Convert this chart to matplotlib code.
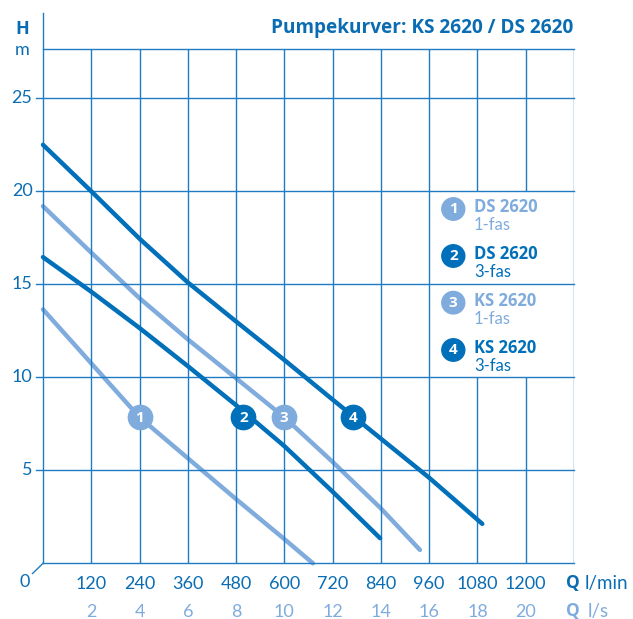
import matplotlib
matplotlib.use("Agg")
import matplotlib.pyplot as plt
from matplotlib.patches import Rectangle

# ---- data ----
q_ds1 = [0, 120, 240, 360, 480, 600, 671]
h_ds1 = [13.65, 10.75, 7.85, 5.65, 3.45, 1.3, 0.0]
q_ds3 = [0, 120, 240, 360, 480, 600, 720, 838]
h_ds3 = [16.46, 14.6, 12.65, 10.6, 8.5, 6.3, 3.85, 1.35]
q_ks1 = [0, 120, 240, 360, 480, 600, 720, 840, 937]
h_ks1 = [19.2, 16.7, 14.25, 12.04, 9.95, 7.85, 5.45, 2.95, 0.72]
q_ks3 = [0, 120, 240, 360, 480, 600, 720, 840, 960, 1092]
h_ks3 = [22.5, 20.0, 17.45, 15.1, 13.0, 10.93, 8.8, 6.7, 4.6, 2.12]

label_nums = ["1", "2", "3", "4"]
label_q = [240, 498, 598, 770]
label_h = [7.85, 7.85, 7.85, 7.85]

legend_names = ["DS 2620", "DS 2620", "KS 2620", "KS 2620"]
legend_phase = ["1-fas", "3-fas", "1-fas", "3-fas"]

x_ticks_lmin = [120, 240, 360, 480, 600, 720, 840, 960, 1080, 1200]
x_ticks_ls = [2, 4, 6, 8, 10, 12, 14, 16, 18, 20]
y_ticks = [5, 10, 15, 20, 25]

title = "Pumpekurver: KS 2620 / DS 2620"

DARK = "#0070BA"
LIGHT = "#80ACDD"
GRID = "#1F7CC4"
TEXT = "#0A6DB3"

plt.rcParams['font.family'] = ['Lato', 'DejaVu Sans']
BOLD = ['Open Sans', 'DejaVu Sans']

fig = plt.figure(figsize=(6.33, 6.19), dpi=100)
ax = fig.add_axes([43/633, 1-563.3/619, 531/633, (563.3-49)/619])
XMAX, YMAX = 1320, 27.65
ax.set_xlim(0, XMAX)
ax.set_ylim(0, YMAX)
ax.axis('off')

# grid: vertical lines
for xv in x_ticks_lmin:
    if xv in (1080, 1200):
        ax.vlines(xv, 0, 10, color=GRID, lw=1.0, zorder=2)
        ax.vlines(xv, 20, YMAX, color=GRID, lw=1.0, zorder=2)
    else:
        ax.vlines(xv, 0, YMAX, color=GRID, lw=1.0, zorder=2)
ax.vlines(XMAX, 0, YMAX, color=GRID, lw=1.0, zorder=2)
# horizontal lines (with ticks extending left)
for yv in y_ticks:
    ax.plot([-18, XMAX], [yv, yv], color=GRID, lw=1.0, zorder=2, clip_on=False)
ax.plot([0, XMAX], [YMAX, YMAX], color=GRID, lw=1.0, zorder=2, clip_on=False)
ax.plot([0, XMAX], [0, 0], color=GRID, lw=1.0, zorder=2, clip_on=False)
# left axis extends above
ax.plot([0, 0], [0, 29.6], color=GRID, lw=1.0, zorder=2, clip_on=False)
# diagonal at origin
ax.plot([0, -26], [0, -0.55], color=GRID, lw=1.0, zorder=2, clip_on=False)

# curves
kw = dict(lw=3.2, solid_capstyle='round', solid_joinstyle='round', clip_on=False)
ax.plot(q_ds1, h_ds1, color=LIGHT, zorder=1.5, **kw)
ax.plot(q_ks1, h_ks1, color=LIGHT, zorder=1.5, **kw)
ax.plot(q_ds3, h_ds3, color=DARK, zorder=3, **kw)
ax.plot(q_ks3, h_ks3, color=DARK, zorder=3, **kw)

# curve labels
label_cols = [LIGHT, DARK, LIGHT, DARK]
for n, q, h, c in zip(label_nums, label_q, label_h, label_cols):
    ax.plot(q, h, 'o', ms=17.5, color=c, mec=c, zorder=5)
    ax.text(q, h - 0.02, n, color='white', fontsize=11, fontweight='bold',
            family=BOLD, ha='center', va='center', zorder=6)

# legend area
ax.add_patch(Rectangle((965, 10.1), 350, 9.8, facecolor='white', edgecolor='none', zorder=1.8))
leg_y_px = [209, 256, 302.7, 350]
for i, (nm, ph, n, c) in enumerate(zip(legend_names, legend_phase, label_nums, label_cols)):
    yc = 1 - leg_y_px[i]/619
    fig.text(453.3/633, yc, n, ha='center', va='center', color='white',
             fontsize=11, fontweight='bold', family=BOLD, zorder=6)
    fig.add_artist(plt.Circle((453.3/633, yc), 11.5/633, transform=fig.transFigure,
                              color=c, zorder=5))
    fig.text(474/633, 1 - (leg_y_px[i]-2)/619, nm, ha='left', va='center',
             color=c, fontsize=12, fontweight='bold', family=BOLD)
    fig.text(474/633, 1 - (leg_y_px[i]+16)/619, ph, ha='left', va='center',
             color=c, fontsize=12)

# y tick labels
for yv in y_ticks:
    ax.text(-26, yv, str(yv), ha='right', va='center', color=TEXT, fontsize=13)
fig.text(24.4/633, 1-582/619, "0", ha='center', va='center', color=TEXT, fontsize=13)
fig.text(22/633, 1-29/619, "H", ha='center', va='center', color=TEXT, fontsize=13,
         fontweight='bold', family=BOLD)
fig.text(22/633, 1-50/619, "m", ha='center', va='center', color=TEXT, fontsize=13)

# x tick labels
for xv in x_ticks_lmin:
    ax.text(xv, -1.09, str(xv), ha='center', va='center', color=TEXT, fontsize=13)
for xv, s in zip(x_ticks_lmin, x_ticks_ls):
    ax.text(xv, -2.62, str(s), ha='center', va='center', color=LIGHT, fontsize=13)
fig.text(566/633, 1-583/619, "Q", ha='left', va='center', color=TEXT, fontsize=12.5,
         fontweight='bold', family=BOLD)
fig.text(585/633, 1-583/619, "l/min", ha='left', va='center', color=TEXT, fontsize=13.5)
fig.text(566/633, 1-611/619, "Q", ha='left', va='center', color=LIGHT, fontsize=12.5,
         fontweight='bold', family=BOLD)
fig.text(588/633, 1-611/619, "l/s", ha='left', va='center', color=LIGHT, fontsize=13.5)

# title
fig.text(573/633, 1-28/619, title, ha='right', va='center', color=TEXT,
         fontsize=13.7, fontweight='bold', family=BOLD)

fig.savefig("out.png", dpi=100)
